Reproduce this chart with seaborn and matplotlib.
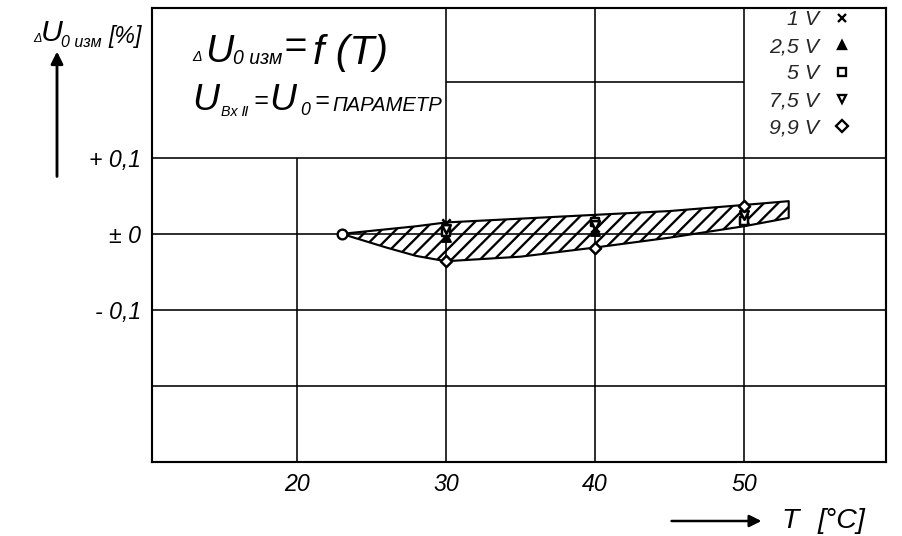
import matplotlib
matplotlib.use("Agg")
import matplotlib.pyplot as plt
from matplotlib.lines import Line2D
import seaborn as sns
import pandas as pd

# Output-voltage deviation (percent) at the measured temperatures, per input level
temps = [30, 40, 50]
series_names = ["1 V", "2,5 V", "5 V", "7,5 V", "9,9 V"]
du_1v = [0.014, 0.008, 0.030]
du_2v5 = [-0.004, 0.004, 0.020]
du_5v = [0.002, 0.015, 0.017]
du_7v5 = [0.006, 0.011, 0.025]
du_9v9 = [-0.036, -0.018, 0.036]

# Common reference point at room temperature
ref_t = [23]
ref_du = [0.0]

# Scatter envelope (hatched band)
band_t = [23, 26, 28, 30, 35, 40, 45, 50, 53]
band_upper = [0.0, 0.006, 0.010, 0.015, 0.020, 0.025, 0.030, 0.038, 0.043]
band_lower = [0.0, -0.018, -0.029, -0.036, -0.030, -0.018, -0.005, 0.010, 0.021]

x_ticks = [20, 30, 40, 50]
y_ticks = [0.1, 0.0, -0.1]
y_tick_labels = ["+ 0,1", "± 0", "- 0,1"]

W, H, DPI = 902, 536, 128

sns.set_theme(style="white")
plt.rcParams["font.family"] = ["Liberation Sans", "DejaVu Sans"]
plt.rcParams["font.style"] = "italic"
plt.rcParams["hatch.linewidth"] = 1.3
plt.rcParams["hatch.color"] = "black"

fig = plt.figure(figsize=(W / DPI, H / DPI), dpi=DPI)
ax = fig.add_axes([152 / W, 1 - 462 / H, 734 / W, 454 / H])
ax.set_xlim(10.27, 59.53)
ax.set_ylim(-0.30, 0.297)

for s in ax.spines.values():
    s.set_linewidth(1.2)
    s.set_color("black")

# drawing-sheet grid
glw = 0.9
ax.hlines([0.1, 0.0, -0.1, -0.2], 10.27, 59.53, colors="black", lw=glw, zorder=1)
ax.hlines([0.2], 30, 50, colors="black", lw=glw, zorder=1)
ax.vlines([20], -0.30, 0.1, colors="black", lw=glw, zorder=1)
ax.vlines([30, 40, 50], -0.30, 0.297, colors="black", lw=glw, zorder=1)

# hatched scatter band
ax.fill_between(band_t, band_lower, band_upper, facecolor="none",
                edgecolor="black", hatch="///", linewidth=1.2, zorder=2)

# measurement points
long = pd.DataFrame({
    "T": temps * 5,
    "dU": du_1v + du_2v5 + du_5v + du_7v5 + du_9v9,
    "U": [n for n in series_names for _ in temps],
})
styles = {
    "1 V": dict(marker="x", color="black", s=22, linewidth=1.4),
    "2,5 V": dict(marker="^", color="black", edgecolor="black", s=26, linewidth=1.0),
    "5 V": dict(marker="s", color="white", edgecolor="black", s=20, linewidth=1.4),
    "7,5 V": dict(marker="v", color="white", edgecolor="black", s=24, linewidth=1.4),
    "9,9 V": dict(marker="D", color="white", edgecolor="black", s=20, linewidth=1.4),
}
for name in series_names:
    sub = long[long["U"] == name]
    sns.scatterplot(data=sub, x="T", y="dU", ax=ax, legend=False, zorder=4, **styles[name])
sns.scatterplot(x=ref_t, y=ref_du, ax=ax, marker="o", color="white", edgecolor="black",
                s=30, linewidth=1.3, legend=False, zorder=4)

ax.set_xticks(x_ticks)
ax.set_xticklabels([str(t) for t in x_ticks], fontsize=13)
ax.set_yticks(y_ticks)
ax.set_yticklabels(y_tick_labels, fontsize=13)
ax.tick_params(length=0, pad=6, colors="black")
ax.set_xlabel("")
ax.set_ylabel("")

# legend in the upper-right cell
handles = []
for name in series_names:
    st = styles[name]
    handles.append(Line2D([], [], linestyle="none", marker=st["marker"],
                          markerfacecolor=st["color"], markeredgecolor="black",
                          color="black", markersize=5, markeredgewidth=1.3))
ax.legend(handles, series_names, loc="upper left", bbox_to_anchor=(769 / W, 1 - 10 / H),
          bbox_transform=fig.transFigure, markerfirst=False, frameon=False,
          fontsize=12, handlelength=1.0, handletextpad=0.6, labelspacing=0.38,
          borderpad=0, borderaxespad=0)


def put(x, y, s, size, **kw):
    fig.text(x / W, 1 - y / H, s, fontsize=size, ha="left", va="baseline", color="black", **kw)


# axis caption of the ordinate
put(33, 42, "Δ", 7)
put(41, 41, "U", 17)
put(61, 47, "0 изм", 9)
put(108, 43, "[%]", 13)

# formula block
put(192, 61, "Δ", 8)
put(205, 62, "U", 22)
put(233, 64, "0 изм", 11)
put(284, 58, "=", 22)
put(313, 64, "f (T)", 23)

put(192, 110, "U", 21)
put(221, 116, "Bx Ⅱ", 8)
put(253, 108, "=", 14)
put(269, 110, "U", 21)
put(300, 115, "0", 10)
put(314, 108, "=", 14)
put(332, 111, "ПАРАМЕТР", 11.4)

# axis caption of the abscissa
put(781, 528, "T", 16)
put(818, 528, "[°C]", 16)

ax.annotate("", xy=(765, H - 521), xytext=(668, H - 521), xycoords="figure pixels",
            textcoords="figure pixels",
            arrowprops=dict(arrowstyle="-|>", lw=1.4, color="black", mutation_scale=14))
ax.annotate("", xy=(57, H - 48), xytext=(57, H - 180), xycoords="figure pixels",
            textcoords="figure pixels",
            arrowprops=dict(arrowstyle="-|>", lw=1.6, color="black", mutation_scale=14))

fig.savefig("out.png", dpi=DPI, facecolor="white")
